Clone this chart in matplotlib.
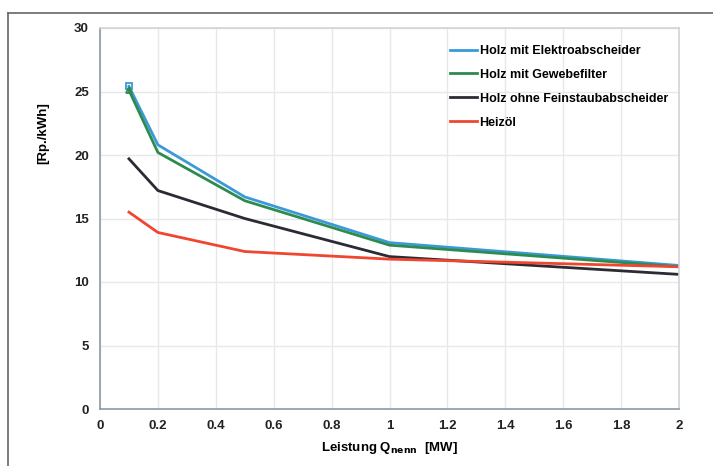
import matplotlib
matplotlib.use("Agg")
import matplotlib.pyplot as plt
from matplotlib.lines import Line2D

plt.rcParams['font.family'] = ['Liberation Sans', 'DejaVu Sans']

leistung = [0.1, 0.2, 0.5, 1.0, 2.0]
elektro = [25.4, 20.8, 16.7, 13.1, 11.3]
gewebe = [25.1, 20.2, 16.4, 12.9, 11.2]
ohne = [19.7, 17.2, 15.0, 12.0, 10.6]
heizoel = [15.5, 13.9, 12.4, 11.8, 11.2]

labels = ["Holz mit Elektroabscheider", "Holz mit Gewebefilter",
          "Holz ohne Feinstaubabscheider", "Heizöl"]
colors = ["#3a9ad9", "#2e8b4e", "#2b2b33", "#f0462f"]
xticks = [0, 0.2, 0.4, 0.6, 0.8, 1, 1.2, 1.4, 1.6, 1.8, 2]
xticklabels = ["0", "0.2", "0.4", "0.6", "0.8", "1", "1.2", "1.4", "1.6", "1.8", "2"]
yticks = [0, 5, 10, 15, 20, 25, 30]

fig = plt.figure(figsize=(7.13, 4.66), dpi=100)
ax = fig.add_axes([100/713, 1-409/466, 579/713, 381/466])

series = [elektro, gewebe, ohne, heizoel]
markers = ['s', '^', None, None]
for vals, c, lab, m in zip(series, colors, labels, markers):
    ax.plot(leistung, vals, color=c, lw=2.0, label=lab,
            marker=m, markersize=5 if m else 0, markevery=[0],
            markerfacecolor='none', markeredgecolor=c, markeredgewidth=1.3)

ax.set_xlim(0, 2)
ax.set_ylim(0, 30)
ax.set_xticks(xticks)
ax.set_xticklabels(xticklabels)
ax.set_yticks(yticks)
ax.grid(True, color='#e6e8ea', lw=1.0)
ax.set_axisbelow(True)
for s in ['left', 'bottom']:
    ax.spines[s].set_color('#8d99a3')
    ax.spines[s].set_linewidth(1.2)
for s in ['top', 'right']:
    ax.spines[s].set_color('#d0d4d8')
    ax.spines[s].set_linewidth(1.2)
ax.tick_params(length=0, labelsize=9.5, pad=8, colors='#222222')
for t in ax.get_xticklabels() + ax.get_yticklabels():
    t.set_fontweight('bold')

ax.set_ylabel("[Rp./kWh]", fontsize=9.5, fontweight='bold', labelpad=14)
ax.yaxis.set_label_coords(-0.088, 0.725)
ax.set_xlabel(r"Leistung Q$_{\mathbf{nenn}}$  [MW]", fontsize=9.5, fontweight='bold', labelpad=6)

handles = [Line2D([0], [0], color=c, lw=2.0) for c in colors]
leg = ax.legend(handles, labels, loc='upper right', bbox_to_anchor=(1.0, 0.985),
                frameon=False, fontsize=9, handlelength=2.2, handletextpad=0.2,
                labelspacing=0.95, prop={'weight': 'bold', 'size': 9})

# outer frame lines
fig.add_artist(Line2D([8/713, 8/713], [0, 1-13/466], transform=fig.transFigure,
                      color='#666666', lw=1.2))
fig.add_artist(Line2D([8/713, 1], [1-13/466, 1-13/466], transform=fig.transFigure,
                      color='#666666', lw=1.2))

fig.savefig("out.png", dpi=100)
